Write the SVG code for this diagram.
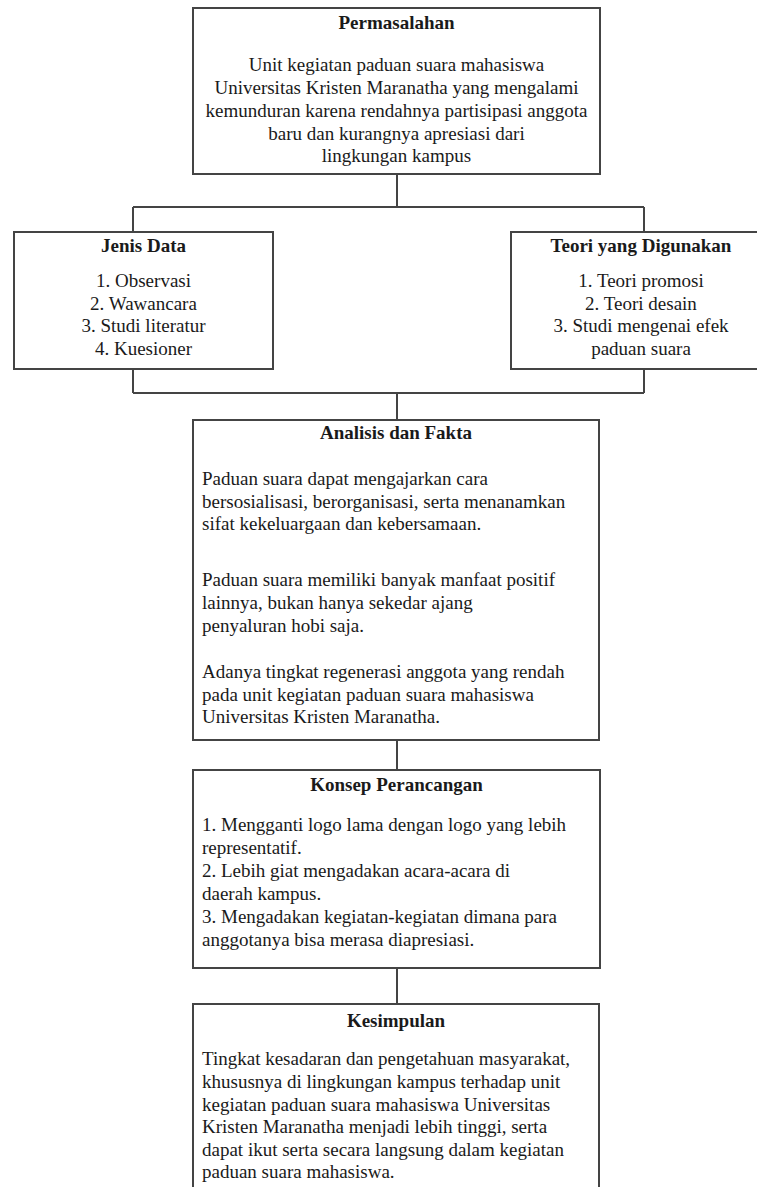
<svg xmlns="http://www.w3.org/2000/svg" width="757" height="1187" viewBox="0 0 757 1187">
<style>
.box{fill:#fff;stroke:#444;stroke-width:2}
.con{stroke:#444;stroke-width:2;fill:none}
text{font-family:"Liberation Serif","Times New Roman",serif;font-size:19px;fill:#1a1a1a}
.t{font-weight:bold;text-anchor:middle}
.c{text-anchor:middle}
</style>
<rect width="757" height="1187" fill="#fff"/>
<g id="connectors">
<path class="con" d="M397 174V207M133 207H644M133 207V232M644 207V232"/>
<path class="con" d="M133 369V393M644 369V393M133 393H644M397 393V420"/>
<path class="con" d="M397 740V770M397 968V1004"/>
</g>
<g id="permasalahan">
<rect class="box" x="193" y="8" width="407" height="166"/>
<text class="t" x="396.5" y="29">Permasalahan</text>
<text class="c" x="396.5" y="71">Unit kegiatan paduan suara mahasiswa</text>
<text class="c" x="396.5" y="94">Universitas Kristen Maranatha yang mengalami</text>
<text class="c" x="396.5" y="117">kemunduran karena rendahnya partisipasi anggota</text>
<text class="c" x="396.5" y="140">baru dan kurangnya apresiasi dari</text>
<text class="c" x="396.5" y="162">lingkungan kampus</text>
</g>
<g id="jenis-data">
<rect class="box" x="14" y="232" width="259" height="137"/>
<text class="t" x="143.5" y="252">Jenis Data</text>
<text class="c" x="143.5" y="287">1. Observasi</text>
<text class="c" x="143.5" y="309.5">2. Wawancara</text>
<text class="c" x="143.5" y="332">3. Studi literatur</text>
<text class="c" x="143.5" y="354.5">4. Kuesioner</text>
</g>
<g id="teori">
<rect class="box" x="511" y="232" width="248" height="137"/>
<text class="t" x="641" y="252">Teori yang Digunakan</text>
<text class="c" x="641" y="287">1. Teori promosi</text>
<text class="c" x="641" y="309.5">2. Teori desain</text>
<text class="c" x="641" y="332">3. Studi mengenai efek</text>
<text class="c" x="641" y="354.5">paduan suara</text>
</g>
<g id="analisis">
<rect class="box" x="193" y="420" width="406" height="320"/>
<text class="t" x="396" y="439">Analisis dan Fakta</text>
<text x="202" y="485">Paduan suara dapat mengajarkan cara</text>
<text x="202" y="507.5">bersosialisasi, berorganisasi, serta menanamkan</text>
<text x="202" y="530">sifat kekeluargaan dan kebersamaan.</text>
<text x="202" y="586">Paduan suara memiliki banyak manfaat positif</text>
<text x="202" y="609">lainnya, bukan hanya sekedar ajang</text>
<text x="202" y="632">penyaluran hobi saja.</text>
<text x="202" y="678">Adanya tingkat regenerasi anggota yang rendah</text>
<text x="202" y="700.5">pada unit kegiatan paduan suara mahasiswa</text>
<text x="202" y="723">Universitas Kristen Maranatha.</text>
</g>
<g id="konsep">
<rect class="box" x="193" y="770" width="407" height="198"/>
<text class="t" x="396.5" y="791">Konsep Perancangan</text>
<text x="202" y="831">1. Mengganti logo lama dengan logo yang lebih</text>
<text x="202" y="854">representatif.</text>
<text x="202" y="877">2. Lebih giat mengadakan acara-acara di</text>
<text x="202" y="900">daerah kampus.</text>
<text x="202" y="923">3. Mengadakan kegiatan-kegiatan dimana para</text>
<text x="202" y="946">anggotanya bisa merasa diapresiasi.</text>
</g>
<g id="kesimpulan">
<rect class="box" x="193" y="1004" width="406" height="200"/>
<text class="t" x="396" y="1027">Kesimpulan</text>
<text x="202" y="1065">Tingkat kesadaran dan pengetahuan masyarakat,</text>
<text x="202" y="1088">khususnya di lingkungan kampus terhadap unit</text>
<text x="202" y="1110.5">kegiatan paduan suara mahasiswa Universitas</text>
<text x="202" y="1133">Kristen Maranatha menjadi lebih tinggi, serta</text>
<text x="202" y="1155.5">dapat ikut serta secara langsung dalam kegiatan</text>
<text x="202" y="1178">paduan suara mahasiswa.</text>
</g>
</svg>
